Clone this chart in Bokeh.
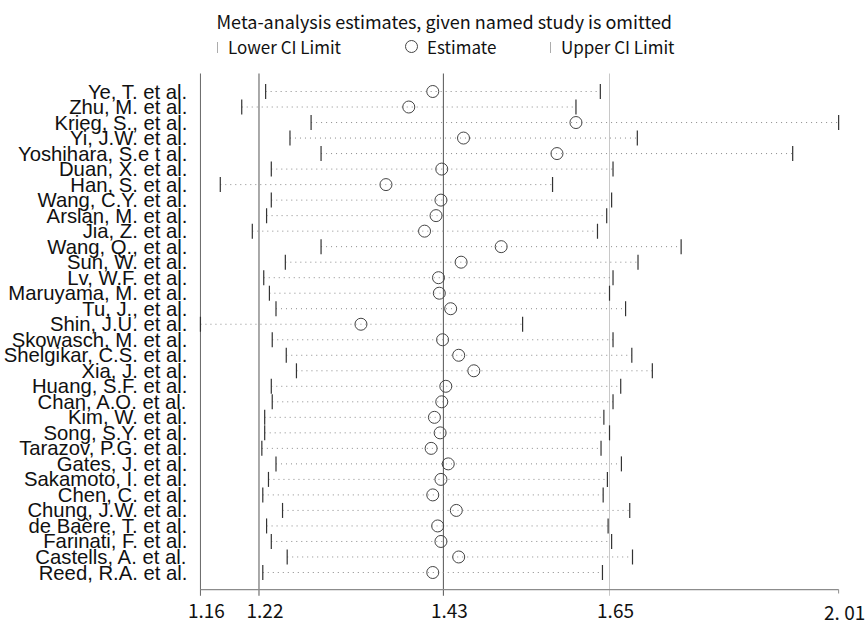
import math
from bokeh.plotting import figure
from bokeh.models import (Range1d, FixedTicker, Legend, LegendItem,
                          ColumnDataSource, Label)
from bokeh.embed import file_html
from bokeh.resources import INLINE

# ---------------- data ----------------
studies = [
    "Ye, T. et al.", "Zhu, M. et al.", "Krieg, S., et al.", "Yi, J.W. et al.",
    "Yoshihara, S.e t al.", "Duan, X. et al.", "Han, S. et al.", "Wang, C.Y. et al.",
    "Arslan, M. et al.", "Jia, Z. et al.", "Wang, Q., et al.", "Sun, W. et al.",
    "Lv, W.F. et al.", "Maruyama, M. et al.", "Tu, J., et al.", "Shin, J.U. et al.",
    "Skowasch, M. et al.", "Shelgikar, C.S. et al.", "Xia, J. et al.", "Huang, S.F. et al.",
    "Chan, A.O. et al.", "Kim, W. et al.", "Song, S.Y. et al.", "Tarazov, P.G. et al.",
    "Gates, J. et al.", "Sakamoto, I. et al.", "Chen, C. et al.", "Chung, J.W. et al.",
    "de Baère, T. et al.", "Farinati, F. et al.", "Castells, A. et al.", "Reed, R.A. et al.",
]
lower = [1.227, 1.202, 1.276, 1.253, 1.287, 1.233, 1.180, 1.233,
         1.228, 1.213, 1.287, 1.248, 1.225, 1.231, 1.238, 1.160,
         1.234, 1.249, 1.260, 1.233, 1.234, 1.226, 1.226, 1.223,
         1.238, 1.230, 1.224, 1.245, 1.228, 1.233, 1.250, 1.224]
estimate = [1.417, 1.388, 1.603, 1.455, 1.577, 1.428, 1.361, 1.427,
            1.421, 1.407, 1.503, 1.452, 1.424, 1.425, 1.439, 1.332,
            1.429, 1.449, 1.468, 1.433, 1.428, 1.419, 1.426, 1.415,
            1.436, 1.427, 1.417, 1.446, 1.423, 1.427, 1.449, 1.417]
upper = [1.637, 1.603, 2.010, 1.690, 1.932, 1.655, 1.571, 1.653,
         1.646, 1.633, 1.755, 1.691, 1.655, 1.650, 1.673, 1.531,
         1.655, 1.682, 1.712, 1.666, 1.655, 1.642, 1.650, 1.638,
         1.667, 1.647, 1.641, 1.679, 1.648, 1.653, 1.683, 1.640]
overall_lower = 1.22
overall_estimate = 1.43
overall_upper = 1.65
tick_values = [1.16, 1.22, 1.43, 1.65, 2.01]
tick_labels = ["1.16", "1.22", "1.43", "1.65", "2. 01"]
title_text = "Meta-analysis estimates, given named study is omitted"

n = len(studies)
rows = list(range(n))
src = ColumnDataSource(dict(study=studies, y=rows, lower=lower,
                            est=estimate, upper=upper))

CJK = "Noto Sans CJK SC"

# layout constants (row units)
Y_TOP = -1.16           # top of the plotting area
Y_AXIS = n - 1 + 1.096  # x-axis baseline
Y_EXT = n - 1 + 1.50    # reference lines run slightly below the axis
Y_TICK = n - 1 + 1.354  # short tick below axis
Y_LAB = n - 1 + 2.50    # tick label baseline

p = figure(width=868, height=621, x_axis_type="log",
           x_range=Range1d(1.14714, 2.06237),
           y_range=Range1d(n - 1 + 3.158, -5.865),
           output_backend="svg", toolbar_location=None, title=None,
           min_border_left=184, min_border_right=0,
           min_border_top=0, min_border_bottom=0)

p.outline_line_color = None
p.xgrid.visible = False
p.ygrid.visible = False
p.xaxis.visible = False

# ---- frame lines: left axis, reference lines, x axis ----
ref_src = ColumnDataSource(dict(
    x=[tick_values[0], overall_lower, overall_estimate, overall_upper],
    color=["#666666", "#555555", "#555555", "#c8c8c8"]))
p.segment(x0="x", y0=Y_TOP, x1="x", y1=Y_EXT, source=ref_src,
          line_color="color", line_width=1)

# x-axis baseline drawn as a thin band, plus the short end tick
p.quad(left=[tick_values[0]], right=[tick_values[-1]],
       top=[Y_AXIS - 0.04], bottom=[Y_AXIS + 0.04],
       fill_color="#8c8c8c", line_color=None)
p.segment(x0=[tick_values[-1]], y0=[Y_AXIS], x1=[tick_values[-1]],
          y1=[Y_TICK], line_color="#8c8c8c", line_width=1)

tick_src = ColumnDataSource(dict(x=tick_values, label=tick_labels,
                                 y=[Y_LAB] * len(tick_values)))
p.text(x="x", y="y", text="label", source=tick_src, x_offset=6,
       text_align="center", text_baseline="alphabetic",
       text_font={"value": CJK}, text_font_size="19px", text_color="#111111")

# ---- study marks ----
p.segment(x0="lower", y0="y", x1="upper", y1="y", source=src,
          line_color="#8a8a8a", line_width=1, line_dash="1 4")
r_low = p.rect(x="lower", y="y", width=1.2, height=15, width_units="screen",
               height_units="screen", source=src, fill_color="#333333",
               line_color=None)
r_up = p.rect(x="upper", y="y", width=1.2, height=15, width_units="screen",
              height_units="screen", source=src, fill_color="#333333",
              line_color=None)
r_est = p.scatter(x="est", y="y", source=src, marker="circle", size=12,
                  fill_color=None, line_color="#444444", line_width=1)

# ---- title & legend ----
p.add_layout(Label(x=29, y=601, x_units="screen", y_units="screen",
                   text=title_text, text_font=CJK, text_font_size="18px",
                   text_baseline="middle", text_color="#111111"))

common = dict(orientation="horizontal", border_line_color=None,
              background_fill_alpha=0, padding=0, margin=0,
              label_text_font=CJK, label_text_font_size="17px",
              label_text_color="#111111")
p.add_layout(Legend(items=[LegendItem(label="Lower CI Limit", renderers=[r_low])],
                    location=(30, 562), glyph_width=1, glyph_height=14,
                    label_standoff=10, **common))
p.add_layout(Legend(items=[LegendItem(label="Estimate", renderers=[r_est])],
                    location=(209, 560), glyph_width=30, glyph_height=30,
                    label_standoff=1, **common))
p.add_layout(Legend(items=[LegendItem(label="Upper CI Limit", renderers=[r_up])],
                    location=(363, 562), glyph_width=1, glyph_height=14,
                    label_standoff=10, **common))

# ---- y axis (study names) ----
p.yaxis.ticker = FixedTicker(ticks=rows, minor_ticks=[])
p.yaxis.major_label_overrides = {i: s for i, s in zip(rows, studies)}
p.yaxis.major_label_text_font = "Liberation Sans"
p.yaxis.major_label_text_font_size = "20.3px"
p.yaxis.major_label_text_color = "#111111"
p.yaxis.major_tick_line_color = None
p.yaxis.major_tick_out = 0
p.yaxis.major_tick_in = 0
p.yaxis.minor_tick_line_color = None
p.yaxis.major_label_standoff = 0
p.yaxis.axis_line_color = None

open("out.html", "w").write(file_html(p, INLINE))
